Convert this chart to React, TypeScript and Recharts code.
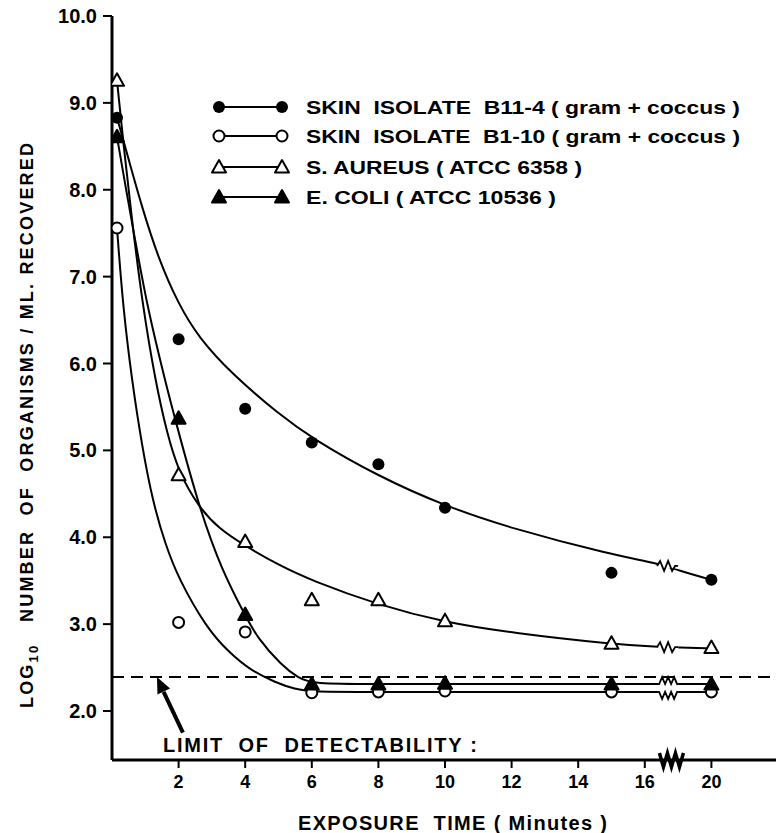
import { ComposedChart, Line, Scatter, XAxis, YAxis, ReferenceLine, ReferenceDot } from 'recharts';

// exposure times (minutes) of the plate counts
const times = [0, 2, 4, 6, 8, 10, 15, 20];
// log10 organisms / ml recovered
const b114Values = [8.83, 6.28, 5.48, 5.09, 4.84, 4.34, 3.59, 3.51];
const b110Values = [7.56, 3.02, 2.91, 2.21, 2.22, 2.23, 2.22, 2.22];
const aureusValues = [9.26, 4.72, 3.95, 3.28, 3.28, 3.04, 2.78, 2.73];
const coliValues = [8.61, 5.37, 3.11, 2.31, 2.31, 2.32, 2.31, 2.31];

// the hand drawn curves
const b114CurveT = [0, 0.5, 0.9, 1.4, 2, 2.6, 3.6, 5, 6, 8, 10, 12, 15, 16.4, 17, 20];
const b114CurveV = [8.83, 8.35, 7.8, 7.2, 6.68, 6.3, 5.88, 5.42, 5.14, 4.7, 4.36, 4.1, 3.8, 3.7, 3.62, 3.51];
const aureusCurveT = [0, 0.35, 0.6, 0.9, 1.3, 1.65, 2, 2.6, 3.2, 4, 5, 6, 8, 10, 12, 15, 16.4, 17, 20];
const aureusCurveV = [9.26, 8.5, 7.65, 6.72, 5.8, 5.2, 4.75, 4.35, 4.1, 3.9, 3.68, 3.5, 3.22, 3.02, 2.9, 2.77, 2.74, 2.73, 2.72];
const coliCurveT = [0, 0.4, 0.75, 1.08, 1.59, 1.9, 2.64, 3.3, 4, 4.35, 5.1, 5.6, 6, 8, 10, 15, 16.4, 17, 20];
const coliCurveV = [8.61, 8.05, 7.3, 6.62, 5.81, 5.35, 4.31, 3.62, 3.1, 2.85, 2.52, 2.38, 2.31, 2.31, 2.31, 2.31, 2.31, 2.31, 2.31];
const b110CurveT = [0, 0.33, 0.6, 0.9, 1.23, 1.6, 2.0, 2.85, 3.5, 4.15, 4.9, 5.5, 6, 8, 10, 15, 16.4, 17, 20];
const b110CurveV = [7.56, 6.65, 5.8, 5.05, 4.4, 3.92, 3.52, 2.95, 2.68, 2.47, 2.33, 2.25, 2.22, 2.22, 2.22, 2.22, 2.22, 2.22, 2.22];

// where each curve crosses the axis break
const breakLevels = [3.67, 2.22, 2.735, 2.31];
const breakDirs = [0, 1, 0, -1];

const xTicks = [2, 4, 6, 8, 10, 12, 14, 16, 20];
const yTicks = [2, 3, 4, 5, 6, 7, 8, 9, 10];
const limitLevel = 2.39;

const legendNames = [
  'SKIN  ISOLATE  B11-4 ( gram + coccus )',
  'SKIN  ISOLATE  B1-10 ( gram + coccus )',
  'S. AUREUS ( ATCC 6358 )',
  'E. COLI ( ATCC 10536 )',
];

// axis is broken between 16 and 20, and the zero readings sit just off the axis
const BREAK_POS = 16.7;
const toAxis = (t: number) => (t === 0 ? 0.15 : t >= 20 ? 18 : t);

const pts = (vals: number[]) => times.map((t, i) => ({ x: toAxis(t), y: vals[i] }));
const curve = (ts: number[], vs: number[]) => ts.map((t, i) => ({ x: toAxis(t), y: vs[i] }));

const FilledCircle = (p: any) => <circle cx={p.cx} cy={p.cy} r={6} fill="#000" />;
const OpenCircle = (p: any) => <circle cx={p.cx} cy={p.cy} r={5.5} fill="#fff" stroke="#000" strokeWidth={2} />;
const tri = (fill: string) => (p: any) => (
  <polygon
    points={`${p.cx},${p.cy - 7} ${p.cx + 7},${p.cy + 5.5} ${p.cx - 7},${p.cy + 5.5}`}
    fill={fill}
    stroke="#000"
    strokeWidth={2}
    strokeLinejoin="round"
  />
);
const shapes = [FilledCircle, OpenCircle, tri('#fff'), tri('#000')];

const zig = (dir: number) => (p: any) => {
  const { cx, cy } = p;
  const d =
    dir === 0
      ? `M${cx - 11},${cy} l3,-5 l4,10 l4,-10 l4,10 l3,-5 l3,0`
      : `M${cx - 11},${cy} l2,0 l3,${7 * dir} l3,${-7 * dir} l3,${7 * dir} l3,${-7 * dir} l3,${7 * dir} l3,${-7 * dir} l1,0`;
  return (
    <g>
      <rect x={cx - 10} y={cy - 2.5} width={20} height={5} fill="#fff" />
      <path d={d} fill="none" stroke="#000" strokeWidth={1.8} strokeLinejoin="miter" />
    </g>
  );
};

const AxisBreak = (p: any) => (
  <path
    d={`M${p.cx - 12},${p.cy - 7} L${p.cx - 8},${p.cy + 7} L${p.cx - 4},${p.cy - 7} L${p.cx},${p.cy + 7} L${p.cx + 4},${p.cy - 7} L${p.cx + 8},${p.cy + 7} L${p.cx + 12},${p.cy - 7}`}
    fill="none"
    stroke="#000"
    strokeWidth={3.5}
  />
);

const ArrowHead = (p: any) => (
  <polygon
    points={`${p.cx},${p.cy} ${p.cx + 13.1},${p.cy + 11.5} ${p.cx + 0.5},${p.cy + 17.5}`}
    fill="#000"
  />
);

const series = [
  { pts: pts(b114Values), curve: curve(b114CurveT, b114CurveV) },
  { pts: pts(b110Values), curve: curve(b110CurveT, b110CurveV) },
  { pts: pts(aureusValues), curve: curve(aureusCurveT, aureusCurveV) },
  { pts: pts(coliValues), curve: curve(coliCurveT, coliCurveV) },
];

const legendY = [107, 136, 167, 197];
const legendLen = [434, 434, 276, 250];

const font = '"Liberation Sans", Arial, sans-serif';

export default function App() {
  return (
    <div style={{ position: 'absolute', left: 0, top: 0, width: 776, height: 833, background: '#fff', fontFamily: font }}>
      <ComposedChart width={776} height={833} margin={{ top: 16, right: 0, bottom: 0, left: 0 }}>
        <XAxis
          type="number"
          dataKey="x"
          domain={[0, 19.94]}
          allowDataOverflow
          ticks={xTicks.map(toAxis)}
          interval={0}
          tickFormatter={(v: number) => (v === toAxis(20) ? '20' : String(v))}
          height={73}
          tickSize={8}
          tickMargin={7}
          axisLine={{ stroke: '#000', strokeWidth: 3 }}
          tickLine={{ stroke: '#000', strokeWidth: 2 }}
          tick={{ fill: '#000', fontSize: 18, fontWeight: 700, fontFamily: font }}
        />
        <YAxis
          type="number"
          dataKey="y"
          domain={[1.436, 10]}
          allowDataOverflow
          ticks={yTicks}
          interval={0}
          tickFormatter={(v: number) => v.toFixed(1)}
          width={112}
          tickSize={9}
          tickMargin={6}
          axisLine={{ stroke: '#000', strokeWidth: 3 }}
          tickLine={{ stroke: '#000', strokeWidth: 2 }}
          tick={{ fill: '#000', fontSize: 20, fontWeight: 700, fontFamily: font }}
        />
        <ReferenceLine y={limitLevel} stroke="#000" strokeWidth={2} strokeDasharray="12 7" />
        <ReferenceLine
          segment={[{ x: 2.13, y: 1.75 }, { x: 1.55, y: 2.22 }]}
          stroke="#000"
          strokeWidth={4}
        />
        <ReferenceDot x={1.35} y={limitLevel} shape={ArrowHead} ifOverflow="visible" />
        {series.map((s, i) => (
          <Line
            key={`c${i}`}
            data={s.curve}
            dataKey="y"
            type="basis"
            stroke="#000"
            strokeWidth={2}
            dot={false}
            activeDot={false}
            isAnimationActive={false}
          />
        ))}
        {breakLevels.map((lv, i) => (
          <ReferenceDot key={`z${i}`} x={BREAK_POS} y={lv} shape={zig(breakDirs[i])} ifOverflow="visible" />
        ))}
        {series.map((s, i) => (
          <Scatter key={`p${i}`} data={s.pts} dataKey="y" shape={shapes[i]} isAnimationActive={false} />
        ))}
        <ReferenceDot x={BREAK_POS + 0.1} y={1.436} shape={AxisBreak} ifOverflow="visible" />
      </ComposedChart>
      <svg width={776} height={833} style={{ position: 'absolute', left: 0, top: 0, pointerEvents: 'none' }}>
        {legendNames.map((name, i) => (
          <g key={name}>
            <line x1={219} x2={282} y1={legendY[i]} y2={legendY[i]} stroke="#000" strokeWidth={2} />
            {shapes[i]({ cx: 219, cy: legendY[i] })}
            {shapes[i]({ cx: 282, cy: legendY[i] })}
            <text
              x={306}
              y={legendY[i] + 7}
              fontSize={19}
              fontWeight={700}
              fontFamily={font}
              textLength={legendLen[i]}
              lengthAdjust="spacingAndGlyphs"
              style={{ whiteSpace: 'pre' }}
            >
              {name}
            </text>
          </g>
        ))}
        <text
          x={163}
          y={752}
          fontSize={20}
          fontWeight={700}
          fontFamily={font}
          textLength={314}
          lengthAdjust="spacing"
          style={{ whiteSpace: 'pre' }}
        >
          {'LIMIT  OF  DETECTABILITY :'}
        </text>
        <text
          x={298}
          y={830}
          fontSize={20}
          fontWeight={700}
          fontFamily={font}
          textLength={309}
          lengthAdjust="spacing"
          style={{ whiteSpace: 'pre' }}
        >
          {'EXPOSURE  TIME ( Minutes )'}
        </text>
        <text
          transform="translate(33,708) rotate(-90)"
          x={0}
          y={0}
          fontSize={18}
          fontWeight={700}
          fontFamily={font}
          textLength={565}
          lengthAdjust="spacing"
          style={{ whiteSpace: 'pre' }}
        >
          LOG
          <tspan fontSize={13} dy={5}>10</tspan>
          <tspan dy={-5}>{'   NUMBER  OF  ORGANISMS / ML. RECOVERED'}</tspan>
        </text>
      </svg>
    </div>
  );
}
